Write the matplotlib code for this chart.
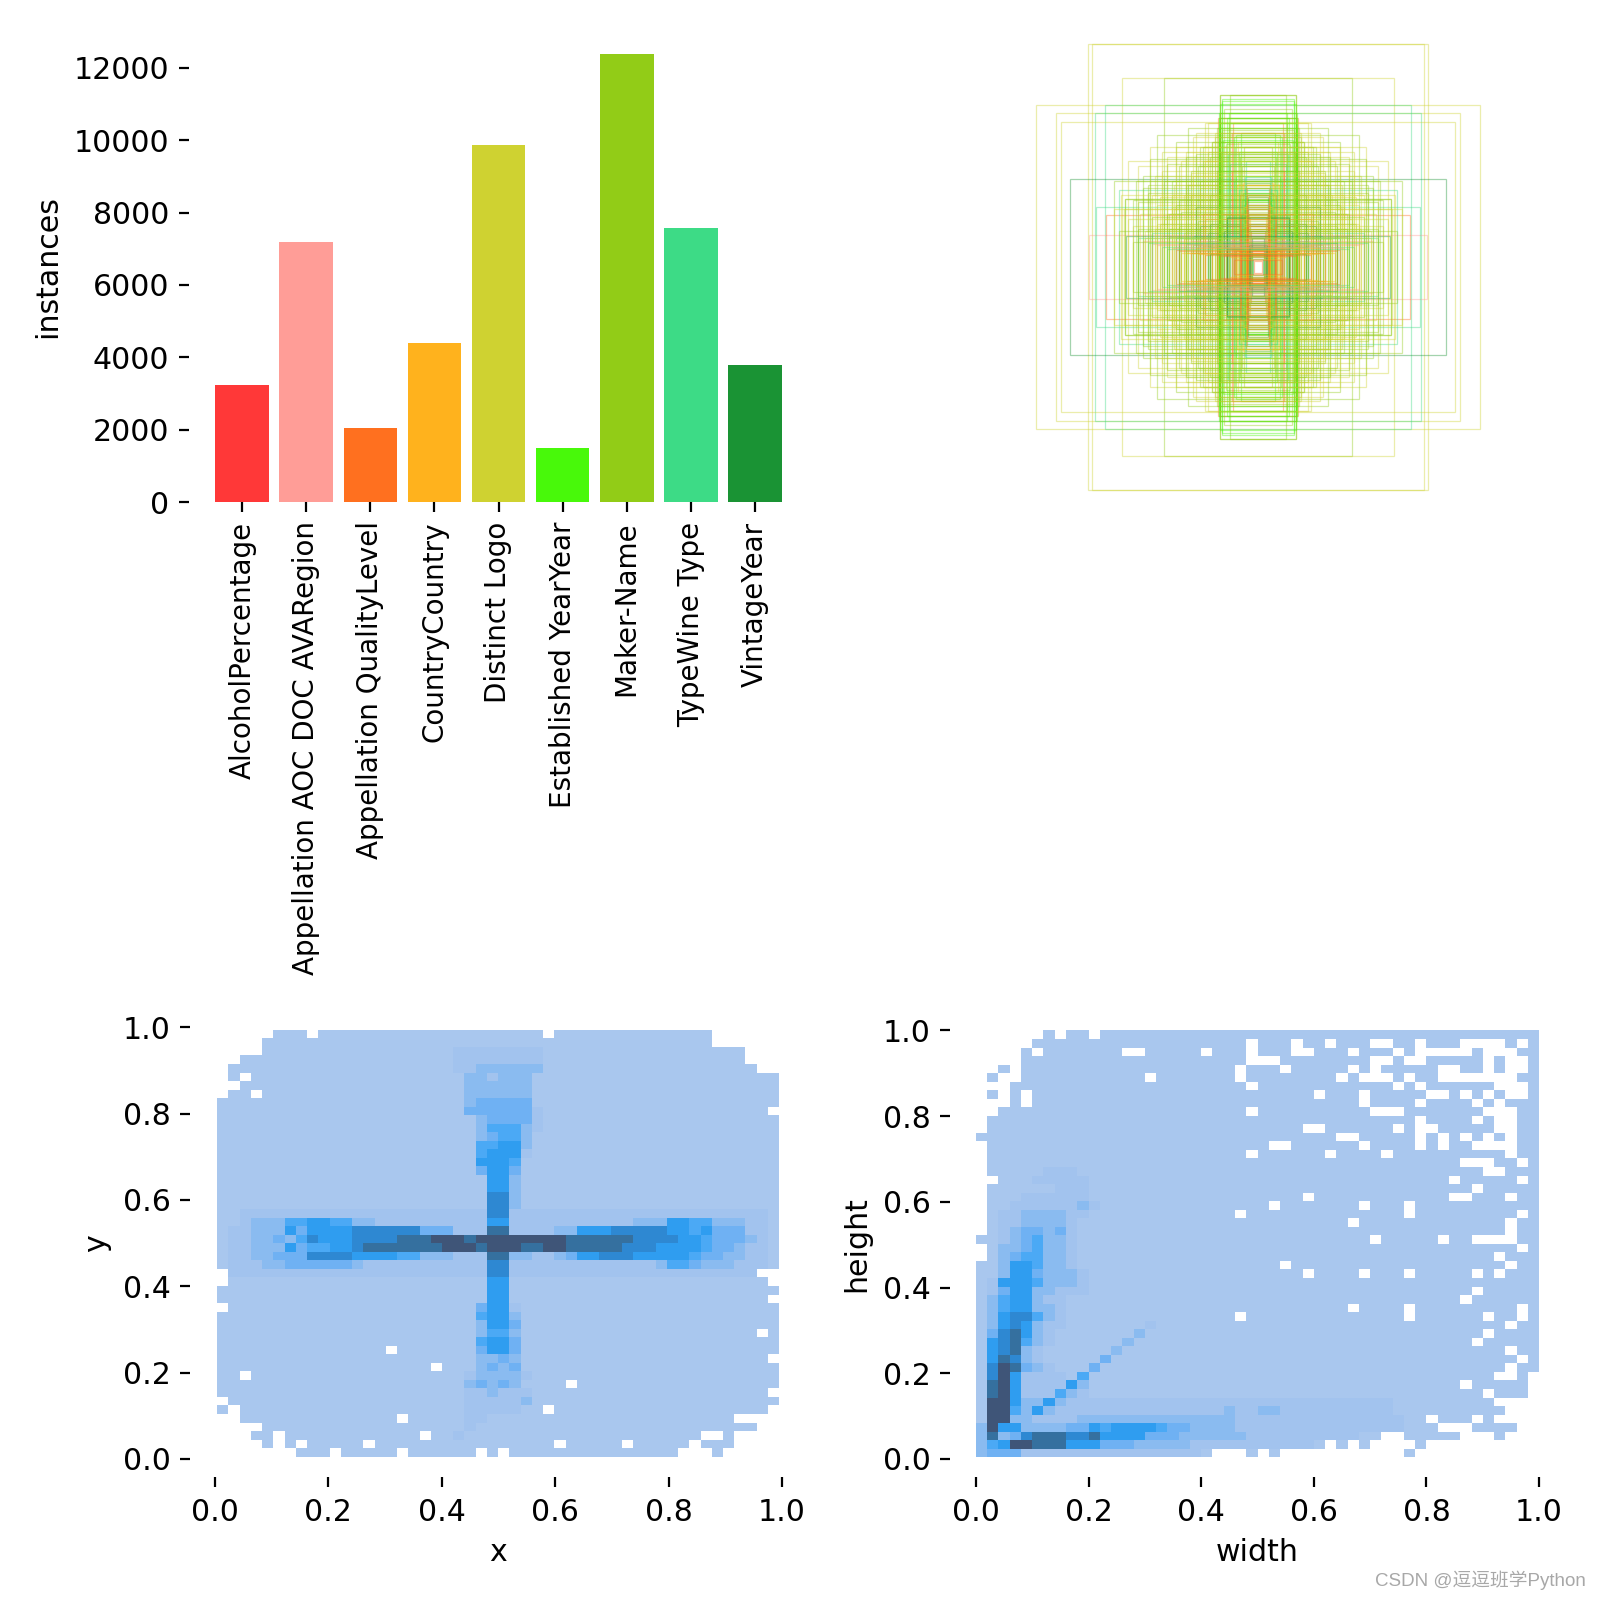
import numpy as np
import matplotlib
matplotlib.use('Agg')
import matplotlib.pyplot as plt
from matplotlib.colors import ListedColormap, BoundaryNorm
from matplotlib.patches import Rectangle

names = ['AlcoholPercentage', 'Appellation AOC DOC AVARegion', 'Appellation QualityLevel',
         'CountryCountry', 'Distinct Logo', 'Established YearYear', 'Maker-Name',
         'TypeWine Type', 'VintageYear']
instances = [3226, 7189, 2040, 4396, 9862, 1493, 12378, 7567, 3779]
palette = ['#FF3838', '#FF9D97', '#FF701F', '#FFB21D', '#CFD231', '#48F90A', '#92CC17', '#3DDB86', '#1A9334']

# heat levels, top row first, 0 = empty cell
level_colors = ['#A9C7EE', '#A2C3EE', '#8ABBF0', '#6FB1F3', '#4BA9F5', '#2F9DF0', '#2E88D2', '#35709F', '#3F5578']

xy_rows = [
    '0000011101 1111111111 1111111110 1111111111 1111000000',
    '0000111111 1111111111 1111111111 1111111111 1111000000',
    '0000111111 1111111111 1222222221 1111111111 1111111000',
    '0011111111 1111111111 1222222221 1111111111 1111111000',
    '0111111111 1111111111 1223333331 1111111111 1111111100',
    '0101111111 1111111111 1133233311 1111111111 1111111111',
    '0011111111 1111111111 1133333311 1111111111 1111111111',
    '0110111111 1111111111 1133333311 1111111111 1111111111',
    '1111111111 1111111111 1134444411 1111111111 1111111111',
    '1111111111 1111111111 1144444421 1111111111 1111111110',
    '1111111111 1111111111 1113444421 1111111111 1111111111',
    '1111111111 1111111111 1113555321 1111111111 1111111111',
    '1111111111 1111111111 1113455311 1111111111 1111111111',
    '1111111111 1111111111 1115566311 1111111111 1111111111',
    '1111111111 1111111111 1115666211 1111111111 1111111111',
    '1111111111 1111111111 1116665111 1111111111 1111111111',
    '1111111111 1111111111 1114664111 1111111111 1111111111',
    '1111111111 1111111111 1111663111 1111111111 1111111111',
    '1111111111 1111111111 1111663111 1111111111 1111111111',
    '1111111111 1111111111 1111773111 1111111111 1111111111',
    '1111111111 1111111111 1111773111 1111111111 1111111111',
    '1122222222 2222222222 2222772222 2222222222 2222222221',
    '1123335566 5533222222 2222662222 2222222333 6655333221',
    '1223336466 6677777744 4222882222 3366677777 6656444221',
    '1223343576 6677778889 9989999999 9888888777 7665444321',
    '1223336455 6678888888 9998999889 9888887776 6665443221',
    '1223344477 7766665533 3222883322 3466777666 6654433221',
    '1222334444 4432222222 2222772222 2222222223 5543332221',
    '0222222222 2222222222 2222772222 2222222222 2222222200',
    '0111111111 1111111111 1111661111 1111111111 1111111110',
    '1111111111 1111111111 1111661111 1111111111 1111111111',
    '1111111111 1111111111 1111661111 1111111111 1111111110',
    '0111111111 1111111111 1114662111 1111111111 1111111111',
    '1111111111 1111111111 1115663111 1111111111 1111111111',
    '1111111111 1111111111 1113664111 1111111111 1111111111',
    '1111111111 1111111111 1113553111 1111111111 1111111101',
    '1111111111 1111111111 1115664111 1111111111 1111111111',
    '1111111111 1111101111 1114664111 1111111111 1111111111',
    '1111111111 1111111111 1113343111 1111111111 1111111110',
    '1111111111 1111111110 1113434111 1111111111 1111111111',
    '1101111111 1111111111 1123333211 1111111111 1111111111',
    '1111111111 1111111111 1134343111 1011111111 1111111111',
    '1111111111 1111111111 1122322211 1111111111 1111111110',
    '0111111111 1111111111 1122222311 1111111111 1111111111',
    '1011111111 1111111111 1122222110 1111111111 1111111110',
    '0011111111 1111110111 1122111111 1111111111 1111110000',
    '0000111111 1111111111 1121111111 1111111111 1111111100',
    '0001101111 1111111101 1211111111 1111111111 1110010000',
    '0000101011 1110111111 1111111111 0111110111 1101110000',
    '0000000111 0111110111 1110101111 1111111111 1000100000',
]

wh_rows = [
    '0000001011 0111111111 1111111111 1111111111 1111111111',
    '0000011111 1111111111 1111011101 1011100110 1110000101',
    '0000101111 1110011111 0111011100 1110111010 0000100011',
    '0000111111 1111111111 1111000111 1111100100 1111101001',
    '0010111111 1111111111 1110111011 1110101111 1001101001',
    '0100111111 1111101111 1110111111 1101000101 1000000011',
    '0001111111 1111111111 1111011111 1111111010 1111110001',
    '0101011111 1111111111 1111111111 0111011111 0010101001',
    '0001011111 1111111111 1111111111 1111011110 1111010111',
    '0011111111 1111111111 1111011111 1111100011 1111100011',
    '0111111111 1111111111 1111111111 1111111110 1111010011',
    '0111111111 1111111111 1111111110 0111111010 0111110011',
    '1111111111 1111111111 1111111111 1100111110 1010101011',
    '0111111111 1111111111 1111110011 1111011110 1011000011',
    '0111111111 1111111111 1111011111 1011110111 1111111011',
    '0111111111 1111111111 1111111111 1111111111 1110001101',
    '0111112221 1111111111 1111111111 1111111111 1111100111',
    '0011122222 1111111111 1111111111 1111111111 1101111101',
    '0111111222 1111111111 1111111111 1111111111 1111011111',
    '0111222222 1111111111 1111111110 1111111111 1100111011',
    '0112222223 2111111111 1111110111 1111011101 1111111111',
    '0122333322 1111111111 1110111111 1111111101 1111111101',
    '0122333321 1111111111 1111111111 1110111111 1111111011',
    '0123443421 1111111111 1111111111 1111111111 1111111011',
    '1123453321 1111111111 1111111111 1111101111 1011000011',
    '0133453321 1111111111 1111111111 1111111111 1111111101',
    '0134553321 1111111111 1111111111 1111111111 1111110111',
    '1136653321 1111111111 1111111011 1111111111 1111111011',
    '1136643332 1111111111 1111111110 1111011101 1111010111',
    '1266653332 1111111111 1111111111 1111111111 1111111111',
    '1246633222 1111111111 1111111111 1111111111 1111011111',
    '1356632211 1111111111 1111111111 1111111111 1110111111',
    '1356633211 1111111111 1111111111 1110111101 1111111101',
    '1367753211 1111111111 1110111111 1111111101 1111101101',
    '1367632211 1111121111 1111111111 1111111111 1111111011',
    '1478632111 1111311111 1111111111 1111111111 1111101111',
    '1678532111 1113111111 1111111111 1111111111 1111011111',
    '1678321111 1131111111 1111111111 1111111111 1111111011',
    '1687321111 1411111111 1111111111 1111111111 1111111101',
    '1798432111 4111111111 1111111111 1111111111 1111111011',
    '1796222215 1111111111 1111111111 1111111111 1111110010',
    '1896222263 1111111111 1111111111 1111111111 1110111110',
    '1896222532 1111111111 1111111111 1111111111 1111101110',
    '1996336322 2222222222 2222222222 2222222111 1111110000',
    '1995363222 2222222222 2232233222 2222222111 1111111000',
    '1993322223 3333333333 3332222222 2222222211 0111010000',
    '3966333344 6566665443 3332222222 2222222211 1000111100',
    '3834788877 8666644433 3333222222 2222110011 1110001000',
    '3569988866 6444333332 2222222222 1010100001 0000000000',
    '3444222222 2222222222 1000101000 0000000010 0000000000',
]

# box sizes seen in the top right panel, as a share of the panel
box_w = [.708, .692, .393, .565, .926, .843, .636, .678, .819, .160, .118, .160, .168, .150,
         .782, .704, .556, .632, .676, .090, .132, .120, .104, .072, .060, .052,
         .450, .420, .380, .340, .300, .500, .480, .400, .360, .320, .280, .260, .240, .220, .200, .440,
         .520, .560, .580, .600, .540, .460, .420, .380, .360, .340, .300, .280, .260, .240, .220, .180,
         .170, .190, .210, .230, .250, .270, .290, .310, .330, .350, .370, .390, .410, .430,
         .150, .140, .130, .120, .110, .100, .095, .085, .080, .075, .070, .065, .164, .158, .152, .146,
         .124, .116, .108, .098, .092, .086, .078, .074, .068, .062, .056, .050, .046, .040,
         .500, .470, .440, .400, .370, .340, .310, .280, .330, .300, .270, .240, .210, .190, .180, .170,
         .330, .300, .270, .250, .230, .210, .190, .170, .150, .130, .110, .095, .080, .065,
         .050, .044, .038, .032, .028, .024, .130, .110, .090, .070, .060, .050, .040, .035,
         .220, .200, .170, .140, .120, .100, .260, .230, .240, .210, .044, .036, .030, .026, .020, .016]
box_h = [.930, .930, .789, .789, .674, .643, .674, .643, .604, .715, .715, .622, .622, .700,
         .368, .135, .285, .215, .250, .549, .514, .640, .600, .560, .500, .440,
         .500, .550, .460, .520, .480, .420, .380, .400, .360, .440, .400, .560, .500, .600, .460, .300,
         .280, .240, .320, .360, .440, .340, .260, .220, .300, .260, .340, .300, .280, .360, .240, .540,
         .580, .520, .480, .440, .420, .380, .340, .300, .280, .240, .220, .200, .180, .160,
         .690, .660, .620, .600, .560, .540, .500, .520, .480, .460, .440, .420, .640, .600, .570, .530,
         .470, .430, .400, .360, .380, .340, .320, .300, .280, .350, .310, .270, .330, .290,
         .160, .150, .140, .130, .125, .120, .115, .110, .170, .150, .130, .120, .110, .100, .090, .085,
         .100, .095, .090, .088, .086, .084, .082, .080, .078, .076, .074, .072, .070, .066,
         .300, .260, .220, .180, .150, .120, .075, .070, .065, .060, .055, .050, .045, .040,
         .200, .180, .170, .150, .130, .120, .250, .220, .170, .140, .100, .075, .060, .050, .035, .025]
box_c = [4, 4, 6, 4, 4, 4, 7, 7, 4, 6, 6, 6, 2, 5,
         8, 1, 6, 2, 7, 5, 6, 5, 2, 5, 6, 7,
         4, 6, 4, 6, 4, 4, 6, 4, 6, 4, 6, 4, 6, 4, 6, 4,
         6, 4, 7, 6, 4, 6, 4, 6, 4, 6, 4, 6, 4, 6, 4, 6,
         6, 4, 6, 4, 6, 4, 6, 4, 6, 4, 6, 4, 6, 4,
         5, 6, 5, 6, 2, 5, 6, 4, 5, 6, 4, 6, 5, 5, 6, 5,
         7, 7, 2, 7, 5, 3, 7, 2, 7, 3, 7, 5, 2, 8,
         6, 4, 7, 1, 6, 7, 4, 1, 6, 4, 7, 3, 7, 2, 4, 3,
         8, 7, 6, 1, 4, 7, 3, 6, 7, 2, 7, 2, 3, 2,
         7, 2, 3, 7, 2, 8, 2, 3, 2, 2, 8, 2, 5, 8,
         2, 8, 2, 8, 7, 2, 8, 2, 8, 8, 8, 7, 2, 5, 8, 2]

# the cross in the middle: green uprights, teal core, orange arms, lime cloud
cross_w = [.160, .162, .158, .160, .164, .156, .160, .158, .162, .160, .158, .164, .160,
           .053, .056, .050, .060, .052, .064, .058, .048, .054, .066,
           .070, .075, .060, .070, .050, .045, .040, .035, .130, .132, .128, .045, .050, .040, .050, .045, .040, .050,
           .035, .036, .030, .330, .320, .220, .200, .160, .140, .100, .090, .120, .250, .280, .300, .340,
           .360, .400, .420, .460, .480, .500, .550, .520, .440, .380, .340, .300, .260,
           .556, .490, .460, .420, .390, .360, .330, .310, .260, .240, .190,
           .520, .500, .470, .440, .410, .370, .350, .320, .280, .250, .220,
           .200, .180, .230, .270, .300, .340, .380, .430, .480, .540,
           .580, .600, .450, .400, .290, .210, .170, .150, .510, .570]
cross_h = [.715, .622, .600, .560, .520, .480, .440, .400, .360, .680, .640, .580, .540,
           .375, .330, .300, .260, .350, .310, .240, .210, .280, .220,
           .222, .200, .250, .160, .130, .100, .170, .210, .210, .215, .205, .300, .260, .240, .210, .180, .140, .340,
           .083, .090, .070, .065, .060, .050, .055, .045, .050, .030, .035, .040, .055, .060, .060, .070,
           .080, .085, .090, .100, .110, .120, .130, .105, .095, .075, .085, .070, .080,
           .285, .220, .310, .180, .360, .250, .420, .140, .470, .330, .520,
           .170, .270, .120, .210, .290, .160, .340, .230, .390, .190, .440,
           .300, .560, .500, .540, .460, .500, .430, .380, .330, .200,
           .150, .240, .450, .480, .580, .600, .400, .470, .360, .300]
cross_c = [6, 5, 5, 6, 5, 6, 5, 5, 6, 5, 6, 5, 6,
           7, 7, 5, 7, 7, 5, 7, 7, 5, 7,
           2, 2, 3, 2, 2, 3, 2, 3, 8, 6, 8, 2, 3, 2, 3, 2, 3, 3,
           8, 8, 7, 2, 3, 2, 8, 2, 2, 2, 3, 3, 3, 2, 3, 2,
           1, 7, 1, 7, 1, 7, 8, 6, 1, 7, 1, 4, 3,
           6, 4, 6, 4, 6, 4, 6, 4, 6, 4, 6,
           4, 6, 4, 6, 4, 6, 4, 6, 4, 6, 4,
           6, 4, 6, 4, 6, 4, 6, 4, 6, 4,
           6, 4, 6, 4, 6, 4, 6, 4, 6, 4]


def heat(ax, rows, xlo, xhi, ylo, yhi):
    z = np.array([[int(c) for c in r.replace(' ', '')] for r in rows])[::-1]
    z = np.ma.masked_equal(z, 0)
    cmap = ListedColormap(level_colors)
    norm = BoundaryNorm(np.arange(0.5, 10), cmap.N)
    ax.pcolormesh(np.linspace(xlo, xhi, 51), np.linspace(ylo, yhi, 51), z, cmap=cmap, norm=norm)
    ax.set_xticks(np.arange(0, 1.01, 0.2))
    ax.set_yticks(np.arange(0, 1.01, 0.2))


def box(left, right, top, bottom):
    # pixel edges of the axes -> figure fraction
    return [left / 1600, 1 - bottom / 1600, (right - left) / 1600, (bottom - top) / 1600]


plt.rcParams['font.size'] = 10.8
plt.rcParams['xtick.major.pad'] = 3.9
fig = plt.figure(figsize=(8, 8), dpi=200)

ax0 = fig.add_axes(box(188.5, 808.5, 32, 502))
ax0.bar(range(len(instances)), instances, width=0.84, color=palette)
ax0.set_xlim(-0.84, 8.84)
ax0.set_ylim(0, 12990)
ax0.set_ylabel('instances')
ax0.set_xticks(range(len(names)))
ax0.set_xticklabels(names, rotation=90, fontsize=10)
ax0.tick_params(axis='x', pad=3.5)

ax1 = fig.add_axes(box(1018, 1498, 27, 507))
ax1.set_xlim(0, 1)
ax1.set_ylim(0, 1)
for w, h, c in zip(box_w + cross_w, box_h + cross_h, box_c + cross_c):
    ax1.add_patch(Rectangle((0.5 - w / 2, 0.5 - h / 2), w, h, fill=False, lw=0.45,
                            edgecolor=palette[c], alpha=0.4))
ax1.axis('off')

ax2 = fig.add_axes(box(190, 807, 1010, 1477))
heat(ax2, xy_rows, 0.004, 0.995, 0.005, 0.994)
ax2.set_xlim(-0.044, 1.044)
ax2.set_ylim(-0.042, 1.04)
ax2.set_xlabel('x')
ax2.set_ylabel('y')

ax3 = fig.add_axes(box(950, 1565, 1012, 1477))
heat(ax3, wh_rows, 0.0, 1.0, 0.004, 1.0)
ax3.set_xlim(-0.046, 1.046)
ax3.set_ylim(-0.042, 1.043)
ax3.set_xlabel('width')
ax3.set_ylabel('height')

for ax in [ax0, ax2, ax3]:
    for s in ax.spines.values():
        s.set_visible(False)

fig.text(1586 / 1600, 1 - 1580 / 1600, 'CSDN @逗逗班学Python', ha='right', va='center', fontsize=6.75,
         color='#a8a8a8', family=['Liberation Sans', 'Noto Sans CJK SC'])

fig.savefig('out.png', dpi=200)
